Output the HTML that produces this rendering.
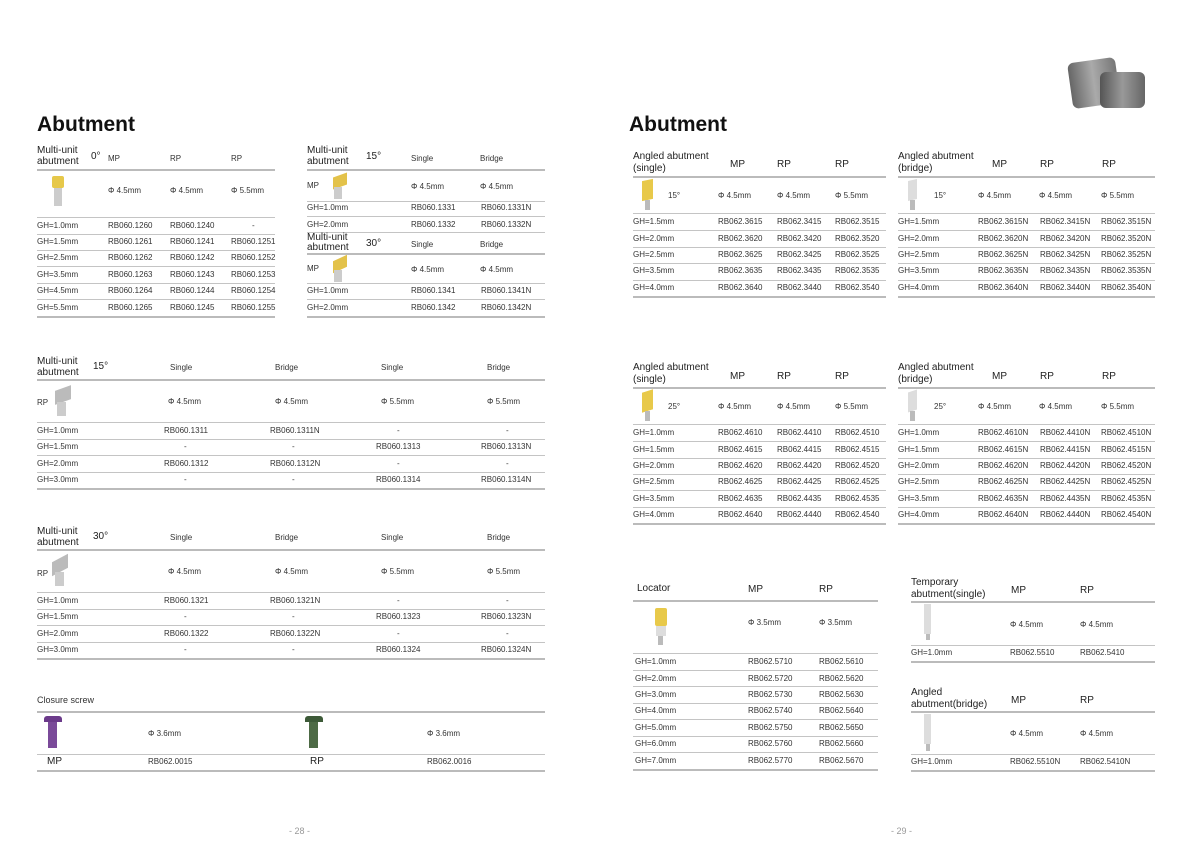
<!DOCTYPE html>
<html><head><meta charset="utf-8"><style>
*{margin:0;padding:0}
body{width:1200px;height:848px;background:#fff;position:relative;overflow:hidden;font-family:"Liberation Sans",sans-serif;color:#333}
i{position:absolute;font-style:normal;font-size:8px;line-height:10px;white-space:nowrap;color:#333}
i.h{font-size:10px;line-height:11px;color:#222}
i.c{transform:translateX(-50%)}
b{position:absolute;height:1px;background:#c4c4c4;display:block}
b.k{height:2px;background:#bbb}
.title{position:absolute;font-size:21px;font-weight:bold;color:#111;line-height:24px}
.im{position:absolute}
</style></head><body>
<div class="title" style="left:37px;top:113px">Abutment</div>
<div class="title" style="left:629px;top:113px">Abutment</div>

<!-- implant image -->
<div class="im" style="left:1070px;top:60px;width:48px;height:46px;background:linear-gradient(90deg,#666,#aaa,#777);border-radius:6px;transform:rotate(-8deg)"></div>
<div class="im" style="left:1100px;top:72px;width:45px;height:36px;background:linear-gradient(90deg,#555,#999,#666);border-radius:6px"></div>

<!-- Section 0° -->
<i class="h" style="left:37px;top:145px">Multi-unit</i><i class="h" style="left:37px;top:156px">abutment</i>
<i class="h" style="left:91px;top:151px">0°</i>
<i style="left:108px;top:154px">MP</i><i style="left:170px;top:154px">RP</i><i style="left:231px;top:154px">RP</i>
<b class="k" style="left:37px;top:169px;width:238px"></b>
<div class="im" style="left:52px;top:176px;width:12px;height:12px;background:#e6c84a;border-radius:2px"></div>
<div class="im" style="left:54px;top:188px;width:8px;height:18px;background:#ccc"></div>
<i style="left:108px;top:186px">Φ 4.5mm</i><i style="left:170px;top:186px">Φ 4.5mm</i><i style="left:231px;top:186px">Φ 5.5mm</i>
<b style="left:37px;top:217px;width:238px"></b>
<i style="left:37px;top:221px">GH=1.0mm</i><i style="left:108px;top:221px">RB060.1260</i><i style="left:170px;top:221px">RB060.1240</i><i style="left:252px;top:221px">-</i>
<b style="left:37px;top:234px;width:238px"></b>
<i style="left:37px;top:237px">GH=1.5mm</i><i style="left:108px;top:237px">RB060.1261</i><i style="left:170px;top:237px">RB060.1241</i><i style="left:231px;top:237px">RB060.1251</i>
<b style="left:37px;top:250px;width:238px"></b>
<i style="left:37px;top:253px">GH=2.5mm</i><i style="left:108px;top:253px">RB060.1262</i><i style="left:170px;top:253px">RB060.1242</i><i style="left:231px;top:253px">RB060.1252</i>
<b style="left:37px;top:266px;width:238px"></b>
<i style="left:37px;top:270px">GH=3.5mm</i><i style="left:108px;top:270px">RB060.1263</i><i style="left:170px;top:270px">RB060.1243</i><i style="left:231px;top:270px">RB060.1253</i>
<b style="left:37px;top:283px;width:238px"></b>
<i style="left:37px;top:286px">GH=4.5mm</i><i style="left:108px;top:286px">RB060.1264</i><i style="left:170px;top:286px">RB060.1244</i><i style="left:231px;top:286px">RB060.1254</i>
<b style="left:37px;top:299px;width:238px"></b>
<i style="left:37px;top:303px">GH=5.5mm</i><i style="left:108px;top:303px">RB060.1265</i><i style="left:170px;top:303px">RB060.1245</i><i style="left:231px;top:303px">RB060.1255</i>
<b class="k" style="left:37px;top:316px;width:238px"></b>

<!-- Multi-unit 15 / 30 small -->
<i class="h" style="left:307px;top:145px">Multi-unit</i><i class="h" style="left:307px;top:156px">abutment</i>
<i class="h" style="left:366px;top:151px">15°</i>
<i style="left:411px;top:154px">Single</i><i style="left:480px;top:154px">Bridge</i>
<b class="k" style="left:307px;top:169px;width:238px"></b>
<i style="left:307px;top:181px">MP</i>
<div class="im" style="left:333px;top:175px;width:14px;height:12px;background:#e3c24a;transform:skewY(-20deg)"></div>
<div class="im" style="left:334px;top:187px;width:8px;height:12px;background:#ccc"></div>
<i style="left:411px;top:182px">Φ 4.5mm</i><i style="left:480px;top:182px">Φ 4.5mm</i>
<b style="left:307px;top:201px;width:238px"></b>
<i style="left:307px;top:203px">GH=1.0mm</i><i style="left:411px;top:203px">RB060.1331</i><i style="left:481px;top:203px">RB060.1331N</i>
<b style="left:307px;top:216px;width:238px"></b>
<i style="left:307px;top:220px">GH=2.0mm</i><i style="left:411px;top:220px">RB060.1332</i><i style="left:481px;top:220px">RB060.1332N</i>
<b style="left:307px;top:232px;width:238px"></b>
<i class="h" style="left:307px;top:232px">Multi-unit</i><i class="h" style="left:307px;top:242px">abutment</i>
<i class="h" style="left:366px;top:238px">30°</i>
<i style="left:411px;top:240px">Single</i><i style="left:480px;top:240px">Bridge</i>
<b class="k" style="left:307px;top:253px;width:238px"></b>
<i style="left:307px;top:264px">MP</i>
<div class="im" style="left:333px;top:258px;width:14px;height:12px;background:#e3c24a;transform:skewY(-25deg)"></div>
<div class="im" style="left:334px;top:270px;width:8px;height:12px;background:#ccc"></div>
<i style="left:411px;top:265px">Φ 4.5mm</i><i style="left:480px;top:265px">Φ 4.5mm</i>
<b style="left:307px;top:283px;width:238px"></b>
<i style="left:307px;top:286px">GH=1.0mm</i><i style="left:411px;top:286px">RB060.1341</i><i style="left:481px;top:286px">RB060.1341N</i>
<b style="left:307px;top:299px;width:238px"></b>
<i style="left:307px;top:303px">GH=2.0mm</i><i style="left:411px;top:303px">RB060.1342</i><i style="left:481px;top:303px">RB060.1342N</i>
<b class="k" style="left:307px;top:316px;width:238px"></b>

<!-- 15° RP -->
<i class="h" style="left:37px;top:356px">Multi-unit</i><i class="h" style="left:37px;top:367px">abutment</i>
<i class="h" style="left:93px;top:361px">15°</i>
<i style="left:170px;top:363px">Single</i><i style="left:275px;top:363px">Bridge</i><i style="left:381px;top:363px">Single</i><i style="left:487px;top:363px">Bridge</i>
<b class="k" style="left:37px;top:379px;width:508px"></b>
<i style="left:37px;top:398px">RP</i>
<div class="im" style="left:55px;top:388px;width:16px;height:14px;background:#bbb;transform:skewY(-20deg)"></div>
<div class="im" style="left:57px;top:402px;width:9px;height:14px;background:#ccc"></div>
<i style="left:168px;top:397px">Φ 4.5mm</i><i style="left:275px;top:397px">Φ 4.5mm</i><i style="left:381px;top:397px">Φ 5.5mm</i><i style="left:487px;top:397px">Φ 5.5mm</i>
<b style="left:37px;top:422px;width:508px"></b>
<i style="left:37px;top:426px">GH=1.0mm</i><i style="left:164px;top:426px">RB060.1311</i><i style="left:270px;top:426px">RB060.1311N</i><i style="left:397px;top:426px">-</i><i style="left:506px;top:426px">-</i>
<b style="left:37px;top:439px;width:508px"></b>
<i style="left:37px;top:442px">GH=1.5mm</i><i style="left:184px;top:442px">-</i><i style="left:292px;top:442px">-</i><i style="left:376px;top:442px">RB060.1313</i><i style="left:481px;top:442px">RB060.1313N</i>
<b style="left:37px;top:455px;width:508px"></b>
<i style="left:37px;top:459px">GH=2.0mm</i><i style="left:164px;top:459px">RB060.1312</i><i style="left:270px;top:459px">RB060.1312N</i><i style="left:397px;top:459px">-</i><i style="left:506px;top:459px">-</i>
<b style="left:37px;top:472px;width:508px"></b>
<i style="left:37px;top:475px">GH=3.0mm</i><i style="left:184px;top:475px">-</i><i style="left:292px;top:475px">-</i><i style="left:376px;top:475px">RB060.1314</i><i style="left:481px;top:475px">RB060.1314N</i>
<b class="k" style="left:37px;top:488px;width:508px"></b>

<!-- 30° RP -->
<i class="h" style="left:37px;top:526px">Multi-unit</i><i class="h" style="left:37px;top:537px">abutment</i>
<i class="h" style="left:93px;top:531px">30°</i>
<i style="left:170px;top:533px">Single</i><i style="left:275px;top:533px">Bridge</i><i style="left:381px;top:533px">Single</i><i style="left:487px;top:533px">Bridge</i>
<b class="k" style="left:37px;top:549px;width:508px"></b>
<i style="left:37px;top:569px">RP</i>
<div class="im" style="left:52px;top:558px;width:16px;height:14px;background:#bbb;transform:skewY(-28deg)"></div>
<div class="im" style="left:55px;top:572px;width:9px;height:14px;background:#ccc"></div>
<i style="left:168px;top:567px">Φ 4.5mm</i><i style="left:275px;top:567px">Φ 4.5mm</i><i style="left:381px;top:567px">Φ 5.5mm</i><i style="left:487px;top:567px">Φ 5.5mm</i>
<b style="left:37px;top:592px;width:508px"></b>
<i style="left:37px;top:596px">GH=1.0mm</i><i style="left:164px;top:596px">RB060.1321</i><i style="left:270px;top:596px">RB060.1321N</i><i style="left:397px;top:596px">-</i><i style="left:506px;top:596px">-</i>
<b style="left:37px;top:609px;width:508px"></b>
<i style="left:37px;top:612px">GH=1.5mm</i><i style="left:184px;top:612px">-</i><i style="left:292px;top:612px">-</i><i style="left:376px;top:612px">RB060.1323</i><i style="left:481px;top:612px">RB060.1323N</i>
<b style="left:37px;top:625px;width:508px"></b>
<i style="left:37px;top:629px">GH=2.0mm</i><i style="left:164px;top:629px">RB060.1322</i><i style="left:270px;top:629px">RB060.1322N</i><i style="left:397px;top:629px">-</i><i style="left:506px;top:629px">-</i>
<b style="left:37px;top:642px;width:508px"></b>
<i style="left:37px;top:645px">GH=3.0mm</i><i style="left:184px;top:645px">-</i><i style="left:292px;top:645px">-</i><i style="left:376px;top:645px">RB060.1324</i><i style="left:481px;top:645px">RB060.1324N</i>
<b class="k" style="left:37px;top:658px;width:508px"></b>

<!-- closure screw -->
<i style="left:37px;top:695px;font-size:9px">Closure screw</i>
<b class="k" style="left:37px;top:711px;width:508px"></b>
<div class="im" style="left:44px;top:716px;width:18px;height:6px;background:#6b3a8a;border-radius:3px 3px 0 0"></div>
<div class="im" style="left:48px;top:722px;width:9px;height:26px;background:#7a4a99"></div>
<i style="left:148px;top:729px">Φ 3.6mm</i>
<div class="im" style="left:305px;top:716px;width:18px;height:6px;background:#3d5a38;border-radius:3px 3px 0 0"></div>
<div class="im" style="left:309px;top:722px;width:9px;height:26px;background:#4d6a45"></div>
<i style="left:427px;top:729px">Φ 3.6mm</i>
<b style="left:37px;top:754px;width:508px"></b>
<i class="h" style="left:47px;top:756px">MP</i><i style="left:148px;top:757px">RB062.0015</i>
<i class="h" style="left:310px;top:756px">RP</i><i style="left:427px;top:757px">RB062.0016</i>
<b class="k" style="left:37px;top:770px;width:508px"></b>

<!-- Right: angled single 15 -->
<i class="h" style="left:633px;top:151px">Angled abutment</i><i class="h" style="left:633px;top:163px">(single)</i>
<i class="h" style="left:730px;top:159px">MP</i><i class="h" style="left:777px;top:159px">RP</i><i class="h" style="left:835px;top:159px">RP</i>
<b class="k" style="left:633px;top:176px;width:253px"></b>
<div class="im" style="left:642px;top:180px;width:11px;height:20px;background:#e8c94a;transform:skewY(-12deg)"></div>
<div class="im" style="left:645px;top:200px;width:5px;height:10px;background:#bbb"></div>
<i style="left:668px;top:191px">15°</i>
<i style="left:718px;top:191px">Φ 4.5mm</i><i style="left:777px;top:191px">Φ 4.5mm</i><i style="left:835px;top:191px">Φ 5.5mm</i>
<b style="left:633px;top:213px;width:253px"></b>
<i style="left:633px;top:217px">GH=1.5mm</i><i style="left:718px;top:217px">RB062.3615</i><i style="left:777px;top:217px">RB062.3415</i><i style="left:835px;top:217px">RB062.3515</i>
<b style="left:633px;top:230px;width:253px"></b>
<i style="left:633px;top:234px">GH=2.0mm</i><i style="left:718px;top:234px">RB062.3620</i><i style="left:777px;top:234px">RB062.3420</i><i style="left:835px;top:234px">RB062.3520</i>
<b style="left:633px;top:247px;width:253px"></b>
<i style="left:633px;top:250px">GH=2.5mm</i><i style="left:718px;top:250px">RB062.3625</i><i style="left:777px;top:250px">RB062.3425</i><i style="left:835px;top:250px">RB062.3525</i>
<b style="left:633px;top:263px;width:253px"></b>
<i style="left:633px;top:266px">GH=3.5mm</i><i style="left:718px;top:266px">RB062.3635</i><i style="left:777px;top:266px">RB062.3435</i><i style="left:835px;top:266px">RB062.3535</i>
<b style="left:633px;top:280px;width:253px"></b>
<i style="left:633px;top:283px">GH=4.0mm</i><i style="left:718px;top:283px">RB062.3640</i><i style="left:777px;top:283px">RB062.3440</i><i style="left:835px;top:283px">RB062.3540</i>
<b class="k" style="left:633px;top:296px;width:253px"></b>

<!-- angled bridge 15 -->
<i class="h" style="left:898px;top:151px">Angled abutment</i><i class="h" style="left:898px;top:163px">(bridge)</i>
<i class="h" style="left:992px;top:159px">MP</i><i class="h" style="left:1040px;top:159px">RP</i><i class="h" style="left:1102px;top:159px">RP</i>
<b class="k" style="left:898px;top:176px;width:257px"></b>
<div class="im" style="left:908px;top:180px;width:9px;height:20px;background:#ddd;transform:skewY(-12deg)"></div>
<div class="im" style="left:910px;top:200px;width:5px;height:10px;background:#bbb"></div>
<i style="left:934px;top:191px">15°</i>
<i style="left:978px;top:191px">Φ 4.5mm</i><i style="left:1039px;top:191px">Φ 4.5mm</i><i style="left:1101px;top:191px">Φ 5.5mm</i>
<b style="left:898px;top:213px;width:257px"></b>
<i style="left:898px;top:217px">GH=1.5mm</i><i style="left:978px;top:217px">RB062.3615N</i><i style="left:1040px;top:217px">RB062.3415N</i><i style="left:1101px;top:217px">RB062.3515N</i>
<b style="left:898px;top:230px;width:257px"></b>
<i style="left:898px;top:234px">GH=2.0mm</i><i style="left:978px;top:234px">RB062.3620N</i><i style="left:1040px;top:234px">RB062.3420N</i><i style="left:1101px;top:234px">RB062.3520N</i>
<b style="left:898px;top:247px;width:257px"></b>
<i style="left:898px;top:250px">GH=2.5mm</i><i style="left:978px;top:250px">RB062.3625N</i><i style="left:1040px;top:250px">RB062.3425N</i><i style="left:1101px;top:250px">RB062.3525N</i>
<b style="left:898px;top:263px;width:257px"></b>
<i style="left:898px;top:266px">GH=3.5mm</i><i style="left:978px;top:266px">RB062.3635N</i><i style="left:1040px;top:266px">RB062.3435N</i><i style="left:1101px;top:266px">RB062.3535N</i>
<b style="left:898px;top:280px;width:257px"></b>
<i style="left:898px;top:283px">GH=4.0mm</i><i style="left:978px;top:283px">RB062.3640N</i><i style="left:1040px;top:283px">RB062.3440N</i><i style="left:1101px;top:283px">RB062.3540N</i>
<b class="k" style="left:898px;top:296px;width:257px"></b>

<!-- angled single 25 -->
<i class="h" style="left:633px;top:362px">Angled abutment</i><i class="h" style="left:633px;top:374px">(single)</i>
<i class="h" style="left:730px;top:371px">MP</i><i class="h" style="left:777px;top:371px">RP</i><i class="h" style="left:835px;top:371px">RP</i>
<b class="k" style="left:633px;top:387px;width:253px"></b>
<div class="im" style="left:642px;top:391px;width:11px;height:20px;background:#e8c94a;transform:skewY(-18deg)"></div>
<div class="im" style="left:645px;top:411px;width:5px;height:10px;background:#bbb"></div>
<i style="left:668px;top:402px">25°</i>
<i style="left:718px;top:402px">Φ 4.5mm</i><i style="left:777px;top:402px">Φ 4.5mm</i><i style="left:835px;top:402px">Φ 5.5mm</i>
<b style="left:633px;top:424px;width:253px"></b>
<i style="left:633px;top:428px">GH=1.0mm</i><i style="left:718px;top:428px">RB062.4610</i><i style="left:777px;top:428px">RB062.4410</i><i style="left:835px;top:428px">RB062.4510</i>
<b style="left:633px;top:441px;width:253px"></b>
<i style="left:633px;top:445px">GH=1.5mm</i><i style="left:718px;top:445px">RB062.4615</i><i style="left:777px;top:445px">RB062.4415</i><i style="left:835px;top:445px">RB062.4515</i>
<b style="left:633px;top:458px;width:253px"></b>
<i style="left:633px;top:461px">GH=2.0mm</i><i style="left:718px;top:461px">RB062.4620</i><i style="left:777px;top:461px">RB062.4420</i><i style="left:835px;top:461px">RB062.4520</i>
<b style="left:633px;top:474px;width:253px"></b>
<i style="left:633px;top:477px">GH=2.5mm</i><i style="left:718px;top:477px">RB062.4625</i><i style="left:777px;top:477px">RB062.4425</i><i style="left:835px;top:477px">RB062.4525</i>
<b style="left:633px;top:490px;width:253px"></b>
<i style="left:633px;top:494px">GH=3.5mm</i><i style="left:718px;top:494px">RB062.4635</i><i style="left:777px;top:494px">RB062.4435</i><i style="left:835px;top:494px">RB062.4535</i>
<b style="left:633px;top:507px;width:253px"></b>
<i style="left:633px;top:510px">GH=4.0mm</i><i style="left:718px;top:510px">RB062.4640</i><i style="left:777px;top:510px">RB062.4440</i><i style="left:835px;top:510px">RB062.4540</i>
<b class="k" style="left:633px;top:523px;width:253px"></b>

<!-- angled bridge 25 -->
<i class="h" style="left:898px;top:362px">Angled abutment</i><i class="h" style="left:898px;top:374px">(bridge)</i>
<i class="h" style="left:992px;top:371px">MP</i><i class="h" style="left:1040px;top:371px">RP</i><i class="h" style="left:1102px;top:371px">RP</i>
<b class="k" style="left:898px;top:387px;width:257px"></b>
<div class="im" style="left:908px;top:391px;width:9px;height:20px;background:#ddd;transform:skewY(-18deg)"></div>
<div class="im" style="left:910px;top:411px;width:5px;height:10px;background:#bbb"></div>
<i style="left:934px;top:402px">25°</i>
<i style="left:978px;top:402px">Φ 4.5mm</i><i style="left:1039px;top:402px">Φ 4.5mm</i><i style="left:1101px;top:402px">Φ 5.5mm</i>
<b style="left:898px;top:424px;width:257px"></b>
<i style="left:898px;top:428px">GH=1.0mm</i><i style="left:978px;top:428px">RB062.4610N</i><i style="left:1040px;top:428px">RB062.4410N</i><i style="left:1101px;top:428px">RB062.4510N</i>
<b style="left:898px;top:441px;width:257px"></b>
<i style="left:898px;top:445px">GH=1.5mm</i><i style="left:978px;top:445px">RB062.4615N</i><i style="left:1040px;top:445px">RB062.4415N</i><i style="left:1101px;top:445px">RB062.4515N</i>
<b style="left:898px;top:458px;width:257px"></b>
<i style="left:898px;top:461px">GH=2.0mm</i><i style="left:978px;top:461px">RB062.4620N</i><i style="left:1040px;top:461px">RB062.4420N</i><i style="left:1101px;top:461px">RB062.4520N</i>
<b style="left:898px;top:474px;width:257px"></b>
<i style="left:898px;top:477px">GH=2.5mm</i><i style="left:978px;top:477px">RB062.4625N</i><i style="left:1040px;top:477px">RB062.4425N</i><i style="left:1101px;top:477px">RB062.4525N</i>
<b style="left:898px;top:490px;width:257px"></b>
<i style="left:898px;top:494px">GH=3.5mm</i><i style="left:978px;top:494px">RB062.4635N</i><i style="left:1040px;top:494px">RB062.4435N</i><i style="left:1101px;top:494px">RB062.4535N</i>
<b style="left:898px;top:507px;width:257px"></b>
<i style="left:898px;top:510px">GH=4.0mm</i><i style="left:978px;top:510px">RB062.4640N</i><i style="left:1040px;top:510px">RB062.4440N</i><i style="left:1101px;top:510px">RB062.4540N</i>
<b class="k" style="left:898px;top:523px;width:257px"></b>

<!-- Locator -->
<i class="h" style="left:637px;top:583px">Locator</i>
<i class="h" style="left:748px;top:584px">MP</i><i class="h" style="left:819px;top:584px">RP</i>
<b class="k" style="left:633px;top:600px;width:245px"></b>
<div class="im" style="left:655px;top:608px;width:12px;height:18px;background:#e8c94a;border-radius:2px"></div>
<div class="im" style="left:656px;top:626px;width:10px;height:10px;background:#ddd"></div>
<div class="im" style="left:658px;top:636px;width:5px;height:9px;background:#bbb"></div>
<i style="left:748px;top:618px">Φ 3.5mm</i><i style="left:819px;top:618px">Φ 3.5mm</i>
<b style="left:633px;top:653px;width:245px"></b>
<i style="left:635px;top:657px">GH=1.0mm</i><i style="left:748px;top:657px">RB062.5710</i><i style="left:819px;top:657px">RB062.5610</i>
<b style="left:633px;top:670px;width:245px"></b>
<i style="left:635px;top:674px">GH=2.0mm</i><i style="left:748px;top:674px">RB062.5720</i><i style="left:819px;top:674px">RB062.5620</i>
<b style="left:633px;top:686px;width:245px"></b>
<i style="left:635px;top:690px">GH=3.0mm</i><i style="left:748px;top:690px">RB062.5730</i><i style="left:819px;top:690px">RB062.5630</i>
<b style="left:633px;top:703px;width:245px"></b>
<i style="left:635px;top:706px">GH=4.0mm</i><i style="left:748px;top:706px">RB062.5740</i><i style="left:819px;top:706px">RB062.5640</i>
<b style="left:633px;top:719px;width:245px"></b>
<i style="left:635px;top:723px">GH=5.0mm</i><i style="left:748px;top:723px">RB062.5750</i><i style="left:819px;top:723px">RB062.5650</i>
<b style="left:633px;top:736px;width:245px"></b>
<i style="left:635px;top:739px">GH=6.0mm</i><i style="left:748px;top:739px">RB062.5760</i><i style="left:819px;top:739px">RB062.5660</i>
<b style="left:633px;top:752px;width:245px"></b>
<i style="left:635px;top:756px">GH=7.0mm</i><i style="left:748px;top:756px">RB062.5770</i><i style="left:819px;top:756px">RB062.5670</i>
<b class="k" style="left:633px;top:769px;width:245px"></b>

<!-- Temporary -->
<i class="h" style="left:911px;top:577px">Temporary</i><i class="h" style="left:911px;top:589px">abutment(single)</i>
<i class="h" style="left:1011px;top:585px">MP</i><i class="h" style="left:1080px;top:585px">RP</i>
<b class="k" style="left:911px;top:601px;width:244px"></b>
<div class="im" style="left:924px;top:604px;width:7px;height:30px;background:#ddd"></div>
<div class="im" style="left:926px;top:634px;width:4px;height:6px;background:#bbb"></div>
<i style="left:1010px;top:620px">Φ 4.5mm</i><i style="left:1080px;top:620px">Φ 4.5mm</i>
<b style="left:911px;top:645px;width:244px"></b>
<i style="left:911px;top:648px">GH=1.0mm</i><i style="left:1010px;top:648px">RB062.5510</i><i style="left:1080px;top:648px">RB062.5410</i>
<b class="k" style="left:911px;top:661px;width:244px"></b>

<i class="h" style="left:911px;top:687px">Angled</i><i class="h" style="left:911px;top:699px">abutment(bridge)</i>
<i class="h" style="left:1011px;top:695px">MP</i><i class="h" style="left:1080px;top:695px">RP</i>
<b class="k" style="left:911px;top:711px;width:244px"></b>
<div class="im" style="left:924px;top:714px;width:7px;height:30px;background:#ddd"></div>
<div class="im" style="left:926px;top:744px;width:4px;height:7px;background:#bbb"></div>
<i style="left:1010px;top:729px">Φ 4.5mm</i><i style="left:1080px;top:729px">Φ 4.5mm</i>
<b style="left:911px;top:754px;width:244px"></b>
<i style="left:911px;top:757px">GH=1.0mm</i><i style="left:1010px;top:757px">RB062.5510N</i><i style="left:1080px;top:757px">RB062.5410N</i>
<b class="k" style="left:911px;top:770px;width:244px"></b>

<i style="left:289px;top:826px;color:#999;font-size:9px">- 28 -</i>
<i style="left:891px;top:826px;color:#999;font-size:9px">- 29 -</i>
</body></html>
